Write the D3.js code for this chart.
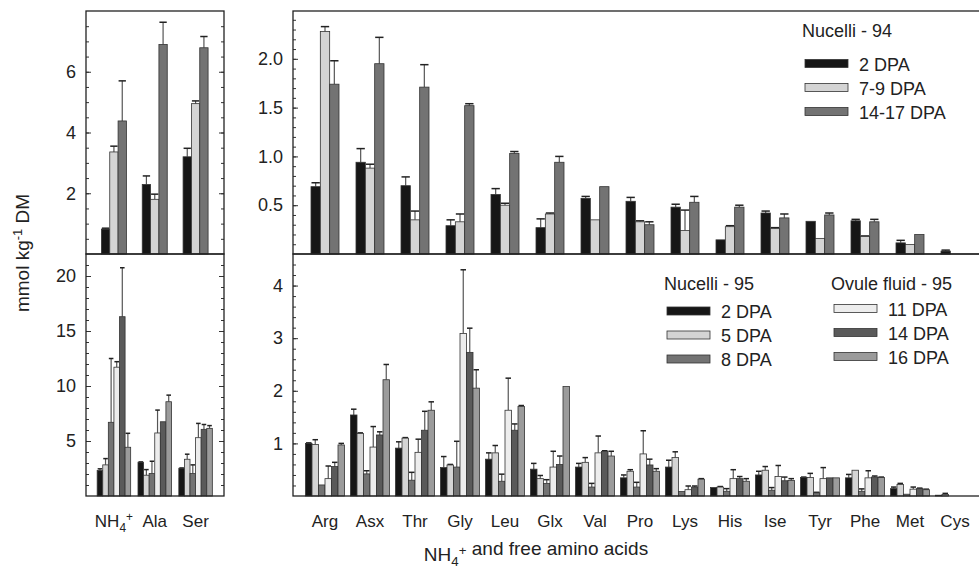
<!DOCTYPE html>
<html>
<head>
<meta charset="utf-8">
<script src="https://cdnjs.cloudflare.com/ajax/libs/d3/7.8.5/d3.min.js"></script>
<style>
body { margin: 0; background: #fff; }
svg { font-family: "Liberation Sans", Arial, sans-serif; }
</style>
</head>
<body>
<div id="chart"></div>
<script>
// first 3 categories go to the narrow left panels, the rest to the wide ones
var categories = ["NH4+", "Ala", "Ser", "Arg", "Asx", "Thr", "Gly", "Leu", "Glx", "Val",
    "Pro", "Lys", "His", "Ise", "Tyr", "Phe", "Met", "Cys"];

// Nucelli - 94 (mean, se)
var n94_2 = [0.82, 2.29, 3.2, 0.69, 0.94, 0.70, 0.29, 0.61, 0.27, 0.57, 0.54, 0.48, 0.145, 0.42, 0.335, 0.34, 0.114, 0.03];
var n94_2se = [0.03, 0.28, 0.28, 0.04, 0.14, 0.09, 0.06, 0.06, 0.09, 0.02, 0.04, 0.03, 0, 0.02, 0, 0.015, 0.026, 0.01];
var n94_7 = [3.36, 1.80, 4.95, 2.28, 0.88, 0.35, 0.33, 0.50, 0.41, 0.35, 0.33, 0.24, 0.28, 0.26, 0.16, 0.18, 0.097, 0];
var n94_7se = [0.19, 0.17, 0.09, 0.05, 0.04, 0.09, 0.08, 0.02, 0.01, 0, 0.01, 0.21, 0.01, 0.01, 0, 0.005, 0, 0];
var n94_14 = [4.38, 6.9, 6.79, 1.74, 1.95, 1.71, 1.52, 1.03, 0.94, 0.69, 0.30, 0.53, 0.48, 0.37, 0.40, 0.33, 0.20, 0];
var n94_14se = [1.32, 0.73, 0.37, 0.24, 0.27, 0.23, 0.02, 0.02, 0.06, 0, 0.03, 0.06, 0.02, 0.04, 0.02, 0.025, 0, 0];

// Nucelli - 95
var n95_2 = [2.31, 3.07, 2.52, 1.0, 1.54, 0.91, 0.54, 0.70, 0.51, 0.55, 0.345, 0.55, 0.16, 0.40, 0.35, 0.345, 0.14, 0.015];
var n95_2se = [0.16, 0.03, 0.03, 0.01, 0.11, 0.12, 0.21, 0.12, 0.11, 0.07, 0.055, 0.13, 0, 0.07, 0.01, 0.065, 0.03, 0];
var n95_5 = [2.83, 1.89, 3.34, 0.98, 1.19, 1.10, 0.59, 0.82, 0.33, 0.64, 0.47, 0.73, 0.17, 0.49, 0.35, 0.49, 0.22, 0.03];
var n95_5se = [0.57, 0.51, 0.46, 0.09, 0.01, 0.01, 0.01, 0.14, 0.06, 0.09, 0.03, 0.11, 0.01, 0.07, 0.08, 0, 0.02, 0.02];
var n95_8 = [6.7, 2.04, 2.04, 0.21, 0.42, 0.30, 0.55, 0.28, 0.24, 0.17, 0.17, 0.085, 0.09, 0.11, 0.06, 0.09, 0.034, 0];
var n95_8se = [5.8, 1.12, 0.79, 0, 0.06, 0.15, 0.49, 0.135, 0.07, 0.07, 0.09, 0, 0.05, 0.05, 0.01, 0.045, 0, 0];

// Ovule fluid - 95
var ov_11 = [11.71, 5.73, 5.3, 0.33, 0.93, 0.83, 3.09, 1.63, 0.55, 0.82, 0.80, 0.12, 0.33, 0.37, 0.33, 0.345, 0.13, 0];
var ov_11se = [0.5, 2.08, 1.3, 0.24, 0.39, 0.25, 1.21, 0.61, 0.30, 0.32, 0.44, 0.07, 0.17, 0.21, 0.21, 0.135, 0.04, 0];
var ov_14 = [16.3, 6.75, 6.06, 0.56, 1.16, 1.25, 2.73, 1.25, 0.60, 0.85, 0.59, 0.17, 0.33, 0.29, 0.345, 0.36, 0.14, 0];
var ov_14se = [4.45, 0, 0.44, 0.08, 0.06, 0.36, 0.46, 0.12, 0.16, 0.01, 0.11, 0.02, 0.04, 0.07, 0, 0.02, 0.01, 0];
var ov_16 = [4.43, 8.57, 6.15, 0.97, 2.21, 1.63, 2.05, 1.70, 2.08, 0.76, 0.47, 0.32, 0.28, 0.295, 0.345, 0.35, 0.12, 0];
var ov_16se = [1.27, 0.6, 0.25, 0.03, 0.29, 0.16, 0.35, 0.02, 0, 0.09, 0.05, 0.01, 0.05, 0.035, 0, 0.01, 0.01, 0];

var legend94 = ["2 DPA", "7-9 DPA", "14-17 DPA"];
var legend95 = ["2 DPA", "5 DPA", "8 DPA"];
var legendOv = ["11 DPA", "14 DPA", "16 DPA"];

var colors94 = ["#161616", "#d4d4d4", "#737373"];
var colors95 = ["#161616", "#d4d4d4", "#737373", "#ededed", "#5a5a5a", "#9b9b9b"];

var topSeries = [[n94_2, n94_2se], [n94_7, n94_7se], [n94_14, n94_14se]];
var botSeries = [[n95_2, n95_2se], [n95_5, n95_5se], [n95_8, n95_8se],
    [ov_11, ov_11se], [ov_14, ov_14se], [ov_16, ov_16se]];

var svg = d3.select("#chart").append("svg").attr("width", 979).attr("height", 573);

function draw_panel(box, from, to, series, colors, domain, major, minor, groupW) {
    var cats = categories.slice(from, to);
    var g = svg.append("g");

    var y = d3.scaleLinear().domain(domain).range([box.y1, box.y0]);
    var x0 = d3.scaleBand().domain(cats).range([box.bx0, box.bx1]);
    var bw = x0.bandwidth();
    var x1 = d3.scaleBand().domain(d3.range(series.length))
        .range([bw / 2 - groupW / 2, bw / 2 + groupW / 2]);

    // inward ticks on both sides
    var axes = [[d3.axisLeft, box.x0], [d3.axisRight, box.x1]];
    axes.forEach(function (a, k) {
        g.append("g").attr("transform", "translate(" + a[1] + ",0)")
            .call(a[0](y).tickValues(minor).tickSize(-3).tickFormat(""))
            .call(function (s) { s.select(".domain").remove(); })
            .selectAll("line").attr("stroke", "#333");
        var ax = g.append("g").attr("transform", "translate(" + a[1] + ",0)")
            .call(a[0](y).tickValues(major).tickSize(-5).tickPadding(10)
                .tickFormat(k === 0 ? box.fmt : ""))
            .call(function (s) { s.select(".domain").remove(); });
        ax.selectAll("line").attr("stroke", "#333");
        ax.selectAll("text").attr("font-size", 18).attr("fill", "#222")
            .attr("font-family", "Liberation Sans, Arial, sans-serif");
    });

    var rows = [];
    cats.forEach(function (c, i) {
        series.forEach(function (s, j) {
            rows.push({cat: c, s: j, v: s[0][from + i], e: s[1][from + i]});
        });
    });

    var bars = g.selectAll(".b").data(rows).enter().append("g")
        .attr("transform", function (d) { return "translate(" + (x0(d.cat) + x1(d.s)) + ",0)"; });

    bars.filter(function (d) { return d.e > 0; }).append("line")
        .attr("x1", x1.bandwidth() / 2).attr("x2", x1.bandwidth() / 2)
        .attr("y1", function (d) { return y(d.v); })
        .attr("y2", function (d) { return y(d.v + d.e); })
        .attr("stroke", "#555").attr("stroke-width", 1.2);
    bars.filter(function (d) { return d.e > 0; }).append("line")
        .attr("x1", 0.5).attr("x2", x1.bandwidth() - 0.5)
        .attr("y1", function (d) { return y(d.v + d.e); })
        .attr("y2", function (d) { return y(d.v + d.e); })
        .attr("stroke", "#222").attr("stroke-width", 1.5);

    bars.filter(function (d) { return d.v > 0; }).append("rect")
        .attr("x", 0)
        .attr("width", x1.bandwidth())
        .attr("y", function (d) { return y(d.v); })
        .attr("height", function (d) { return y(0) - y(d.v); })
        .attr("fill", function (d) { return colors[d.s]; })
        .attr("stroke", "#333").attr("stroke-width", 0.8);

    g.append("rect").attr("x", box.x0).attr("y", box.y0)
        .attr("width", box.x1 - box.x0).attr("height", box.y1 - box.y0)
        .attr("fill", "none").attr("stroke", "#222").attr("stroke-width", 1.3);

    return x0;
}

var fmt1 = d3.format(".1f");
var fmt0 = d3.format("d");

var xl = draw_panel({x0: 86, x1: 224, y0: 11, y1: 254, bx0: 93.5, bx1: 216, fmt: fmt0},
    0, 3, topSeries, colors94, [0, 8], [2, 4, 6], d3.range(0.5, 8, 0.5), 25);
draw_panel({x0: 86, x1: 224, y0: 254, y1: 496, bx0: 93.5, bx1: 216, fmt: fmt0},
    0, 3, botSeries, colors95, [0, 22], [5, 10, 15, 20], d3.range(1, 22, 1), 33.5);
var xr = draw_panel({x0: 293, x1: 992, y0: 11, y1: 254, bx0: 302.5, bx1: 977.5, fmt: fmt1},
    3, 18, topSeries, colors94, [0, 2.49], [0.5, 1.0, 1.5, 2.0], d3.range(0.1, 2.45, 0.1), 28);
draw_panel({x0: 293, x1: 992, y0: 254, y1: 496, bx0: 302.5, bx1: 977.5, fmt: fmt0},
    3, 18, botSeries, colors95, [0, 4.6], [1, 2, 3, 4], d3.range(0.2, 4.6, 0.2), 39);

// category labels
function nh4(t, big) {
    t.append("tspan").text("NH");
    t.append("tspan").text("4").attr("font-size", big * 0.7).attr("dy", 5);
    t.append("tspan").text("+").attr("font-size", big * 0.7).attr("dy", -11);
    t.append("tspan").text("").attr("dy", 6);
}

categories.forEach(function (c, i) {
    var cx = i < 3 ? xl(c) + xl.bandwidth() / 2 : xr(c) + xr.bandwidth() / 2;
    var t = svg.append("text").attr("x", cx).attr("y", 527)
        .attr("text-anchor", "middle").attr("font-size", 17).attr("fill", "#222");
    if (c === "NH4+") nh4(t, 17);
    else t.text(c);
});

var title = svg.append("text").attr("x", 536).attr("y", 561)
    .attr("text-anchor", "middle").attr("font-size", 19).attr("fill", "#222");
nh4(title, 19);
title.append("tspan").text(" and free amino acids");

var yt = svg.append("text").attr("transform", "translate(29,253) rotate(-90)")
    .attr("text-anchor", "middle").attr("font-size", 19).attr("fill", "#222");
yt.append("tspan").text("mmol kg");
yt.append("tspan").text("-1").attr("font-size", 13).attr("dy", -7);
yt.append("tspan").text(" DM").attr("dy", 7);

// legends
function legend(x, yTitle, titleText, names, colors, y0) {
    svg.append("text").attr("x", x - 3).attr("y", yTitle).attr("font-size", 18)
        .attr("fill", "#222").text(titleText);
    names.forEach(function (n, i) {
        var yy = y0 + i * 24;
        svg.append("rect").attr("x", x).attr("y", yy - 4).attr("width", 43).attr("height", 8)
            .attr("fill", colors[i]).attr("stroke", "#333").attr("stroke-width", 0.8);
        svg.append("text").attr("x", x + 54).attr("y", yy + 7).attr("font-size", 18)
            .attr("fill", "#222").text(n);
    });
}

legend(805, 37, "Nucelli - 94", legend94, colors94, 63.5);
legend(667, 290, "Nucelli - 95", legend95, colors95.slice(0, 3), 311);
legend(834, 290, "Ovule fluid - 95", legendOv, colors95.slice(3), 308.5);
</script>
</body>
</html>
